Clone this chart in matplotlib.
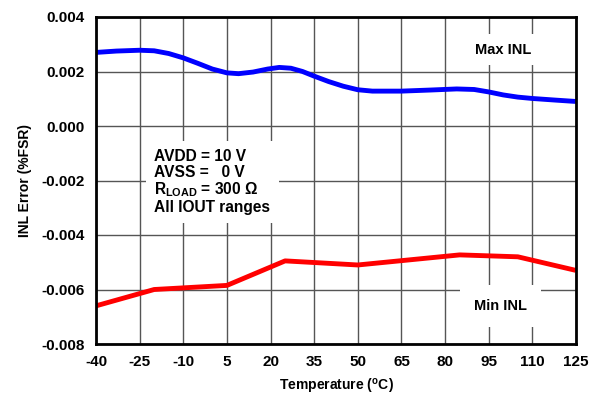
import matplotlib
matplotlib.use("Agg")
import matplotlib.pyplot as plt
import numpy as np

plt.rcParams['font.family'] = ['Liberation Sans', 'DejaVu Sans']
plt.rcParams['font.weight'] = 'bold'

x_ticks = [-40, -25, -10, 5, 20, 35, 50, 65, 80, 95, 110, 125]
y_ticks = [-0.008, -0.006, -0.004, -0.002, 0.000, 0.002, 0.004]

max_temp = [-40, -33, -25, -20, -15, -10, -5, 0, 5, 9, 14, 19, 23, 27, 31, 35, 40, 45, 50,
            55, 65, 75, 84, 90, 95, 100, 105, 110, 118, 125]
max_inl = [0.0027, 0.00275, 0.00278, 0.00276, 0.00266, 0.0025, 0.0023, 0.00209, 0.00195, 0.00192,
           0.00198, 0.00209, 0.00215, 0.00212, 0.002, 0.00183, 0.00163, 0.00146, 0.00133,
           0.00128, 0.00128, 0.00132, 0.00136, 0.00134, 0.00125, 0.00114, 0.00106, 0.00101,
           0.00095, 0.0009]

min_temp = [-40, -20, 5, 25, 50, 85, 105, 125]
min_inl = [-0.0066, -0.0060, -0.00585, -0.00495, -0.0051, -0.00473, -0.0048, -0.0053]

fig = plt.figure(figsize=(5.98, 3.95), dpi=100)
ax = fig.add_axes([96 / 598, 1 - 344 / 395, 480 / 598, 327 / 395])

ax.plot(max_temp, max_inl, color='#0000ff', lw=3.5, solid_joinstyle='round', solid_capstyle='butt')
ax.plot(min_temp, min_inl, color='#ff0000', lw=3.5, solid_joinstyle='round', solid_capstyle='butt')

ax.set_xlim(-40, 125)
ax.set_ylim(-0.008, 0.004)
ax.set_xticks(x_ticks)
ax.set_yticks(y_ticks)
ax.set_xticklabels([str(v) for v in x_ticks])
ax.set_yticklabels([f"{v:.3f}" for v in y_ticks])
ax.grid(True, color='#555555', lw=1.0)
ax.set_axisbelow(True)
ax.tick_params(length=0, labelsize=11, pad=8)
for s in ax.spines.values():
    s.set_linewidth(2)

ax.set_xlabel("Temperature ($^{\\mathregular{o}}$C)", fontsize=10, fontweight='bold', labelpad=6)
ax.set_ylabel("INL Error (%FSR)", fontsize=10, fontweight='bold', labelpad=7)

box = dict(facecolor='white', edgecolor='none', pad=6)
ax.text(-20, -0.00085,
        "AVDD = 10 V\nAVSS =   0 V\nR$_{\\mathregular{LOAD}}$ = 300 Ω\nAll IOUT ranges",
        fontsize=11.2, fontweight='bold', va='top', ha='left', linespacing=1.05, bbox=box)
ax.text(100, 0.0028, "Max INL", fontsize=10.5, fontweight='bold', ha='center', va='center', bbox=box)
ax.text(99, -0.0066, "Min INL", fontsize=10.5, fontweight='bold', ha='center', va='center',
        bbox=dict(facecolor='white', edgecolor='none', pad=10))

fig.savefig("out.png", dpi=100)
